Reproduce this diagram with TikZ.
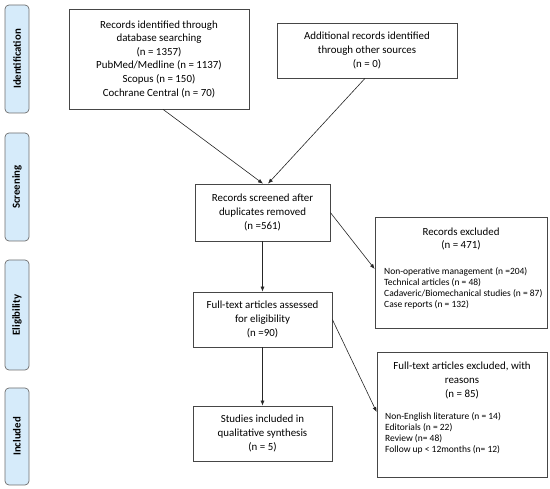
\documentclass[tikz,border=0pt]{standalone}
\usepackage{fontspec}
\setmainfont{Carlito}
\usepackage{xcolor}
\usepackage{tikz}
\usetikzlibrary{arrows.meta, positioning, calc}
\definecolor{phaseblue}{RGB}{214, 235, 250}
\definecolor{phasegray}{RGB}{110, 110, 110}
\definecolor{boxgray}{RGB}{70, 70, 70}
\tikzset{
    box/.style={draw=boxgray, line width=0.7pt, align=center, inner sep=0pt,
        font=\fontsize{10.9}{13.6}\selectfont},
    phase/.style={draw=phasegray, line width=0.7pt, fill=phaseblue, rounded corners=4pt,
        rotate=90, minimum height=24pt, inner sep=0pt,
        font=\fontsize{10.8}{11}\selectfont\bfseries},
    listtext/.style={align=left, inner sep=0pt, font=\fontsize{9.5}{11}\selectfont},
    flow/.style={->, line width=0.6pt, black!85}
}

\begin{document}
\begin{tikzpicture}[x=1pt, y=-1pt, >={Latex[length=5pt,width=4pt]}]
    \useasboundingbox (0,0) rectangle (550,489);
    % phases
    \node[phase, minimum width=108pt] (ident) at (17,59) {Identification};
    \node[phase, minimum width=108pt] (screen) at (17,187) {Screening};
    \node[phase, minimum width=110pt] (elig) at (17,315) {Eligibility};
    \node[phase, minimum width=97pt] (incl) at (17,436.5) {Included};
    % boxes
    \node[box, minimum width=180pt, minimum height=100pt] (dbrec) at (159,59)
        {Records identified through\\database searching\\(n = 1357)\\PubMed/Medline (n = 1137)\\Scopus (n = 150)\\Cochrane Central (n = 70)};
    \node[box, minimum width=180pt, minimum height=55pt] (otherrec) at (367,50.5)
        {Additional records identified\\through other sources\\(n = 0)};
    \node[box, minimum width=135pt, minimum height=57pt] (screened) at (262.5,212.5)
        {Records screened after\\duplicates removed\\(n =561)};
    \node[box, minimum width=172pt, minimum height=111pt] (excl) at (461,272.5) {};
    \node[box, draw=none] (exclt) at (461,239) {Records excluded\\(n = 471)};
    \node[listtext, anchor=west] (excll) at (384,288.5)
        {Non-operative management (n =204)\\Technical articles (n = 48)\\Cadaveric/Biomechanical studies (n = 87)\\Case reports (n = 132)};
    \node[box, minimum width=139pt, minimum height=55pt] (fulltext) at (262.5,319.5)
        {Full-text articles assessed\\for eligibility\\(n =90)};
    \node[box, minimum width=139pt, minimum height=55pt] (included) at (262.5,433.5)
        {Studies included in\\qualitative synthesis\\(n = 5)};
    \node[box, minimum width=170pt, minimum height=125pt] (ftexcl) at (462,414.5) {};
    \node[box, draw=none] (ftexclt) at (462,380.5) {Full-text articles excluded, with\\reasons\\(n = 85)};
    \node[listtext, anchor=west] (ftexcll) at (385,433.5)
        {Non-English literature (n = 14)\\Editorials (n = 22)\\Review (n= 48)\\Follow up < 12months (n= 12)};
    % connectors
    \draw[flow] ([xshift=4pt]dbrec.south) -- ([xshift=0.5pt]screened.north);
    \draw[flow] ([xshift=-2pt]otherrec.south) -- ([xshift=5.5pt]screened.north);
    \draw[flow] (screened) -- (fulltext);
    \draw[flow] (fulltext) -- (included);
    \draw[flow] (screened.east) -- ([yshift=3.5pt]excl.west);
    \draw[flow] (fulltext.east) -- ([yshift=2.5pt]ftexcl.west);
\end{tikzpicture}
\end{document}
